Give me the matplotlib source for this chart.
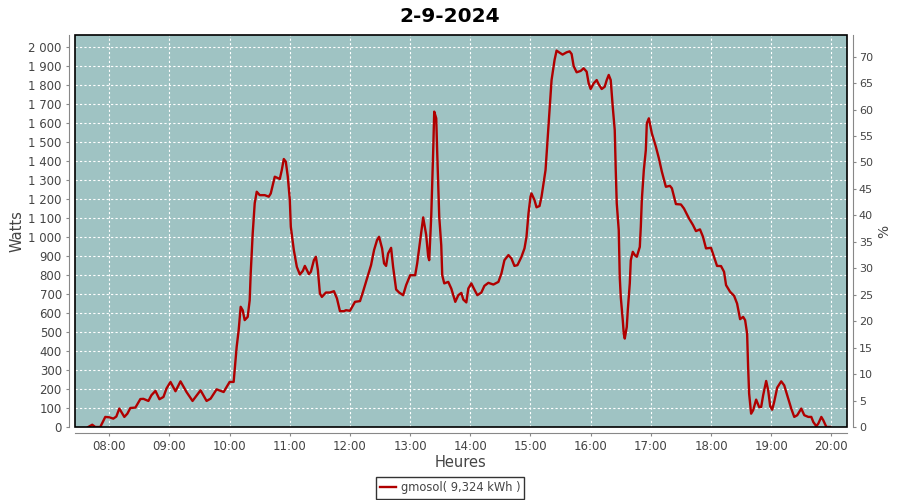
import pandas as pd
import matplotlib
matplotlib.use("Agg")
import matplotlib.pyplot as plt
import matplotlib.dates as mdates
from matplotlib.patches import Rectangle
from matplotlib.ticker import FuncFormatter, MultipleLocator

day = "2024-09-02"
title = "2-9-2024"
series_name = "gmosol( 9,324 kWh )"

times = [
    "07:39", "07:43", "07:46", "07:51", "07:56", "08:00", "08:04", "08:07", "08:10", "08:12",
    "08:15", "08:18", "08:21", "08:26", "08:31", "08:34", "08:39", "08:42", "08:46", "08:50",
    "08:54", "08:57", "09:01", "09:06", "09:11", "09:17", "09:23", "09:31", "09:37", "09:41",
    "09:47", "09:54", "10:00", "10:04", "10:05", "10:07", "10:09", "10:11", "10:13", "10:15",
    "10:18", "10:20", "10:21", "10:23", "10:25", "10:27", "10:30", "10:35", "10:39", "10:41",
    "10:45", "10:50", "10:52", "10:54", "10:56", "10:58", "11:00", "11:01", "11:04", "11:07",
    "11:10", "11:13", "11:15", "11:19", "11:21", "11:24", "11:26", "11:28", "11:30", "11:32",
    "11:36", "11:40", "11:44", "11:47", "11:50", "11:54", "11:56", "12:00", "12:05", "12:10",
    "12:13", "12:17", "12:21", "12:24", "12:27", "12:29", "12:32", "12:34", "12:36", "12:38",
    "12:41", "12:43", "12:46", "12:49", "12:53", "12:56", "13:00", "13:05", "13:07", "13:10",
    "13:13", "13:16", "13:18", "13:19", "13:21", "13:22", "13:23", "13:24", "13:26", "13:27",
    "13:29", "13:31", "13:32", "13:34", "13:38", "13:41", "13:45", "13:48", "13:51", "13:53",
    "13:56", "13:58", "14:01", "14:04", "14:07", "14:11", "14:14", "14:18", "14:23", "14:28",
    "14:31", "14:34", "14:38", "14:41", "14:44", "14:47", "14:51", "14:54", "14:56", "14:58",
    "15:00", "15:01", "15:04", "15:06", "15:09", "15:11", "15:14", "15:15", "15:17", "15:19",
    "15:21", "15:24", "15:26", "15:29", "15:32", "15:36", "15:39", "15:41", "15:43", "15:46",
    "15:50", "15:53", "15:56", "15:58", "16:00", "16:03", "16:06", "16:08", "16:11", "16:14",
    "16:16", "16:18", "16:20", "16:22", "16:24", "16:25", "16:26", "16:28", "16:29", "16:30",
    "16:32", "16:33", "16:34", "16:36", "16:37", "16:39", "16:40", "16:42", "16:44", "16:46",
    "16:49", "16:50", "16:51", "16:53", "16:55", "16:56", "16:58", "17:01", "17:05", "17:08",
    "17:11", "17:15", "17:19", "17:21", "17:25", "17:30", "17:33", "17:38", "17:42", "17:45",
    "17:49", "17:52", "17:55", "18:00", "18:03", "18:06", "18:10", "18:13", "18:15", "18:19",
    "18:23", "18:26", "18:29", "18:32", "18:34", "18:36", "18:37", "18:38", "18:40", "18:42",
    "18:45", "18:48", "18:50", "18:52", "18:55", "18:57", "18:59", "19:01", "19:03", "19:06",
    "19:10", "19:13", "19:16", "19:20", "19:23", "19:26", "19:30", "19:33", "19:37", "19:40",
    "19:42", "19:45", "19:47", "19:50", "19:52", "19:55", "19:59",
]

watts = [
    0, 12, 0, 0, 53, 51, 44, 55, 97, 79,
    53, 70, 100, 102, 147, 148, 137, 167, 190, 146,
    158, 202, 237, 188, 240, 184, 137, 193, 137, 149,
    198, 184, 237, 237, 298, 421, 509, 632, 614, 562,
    579, 667, 807, 1018, 1176, 1237, 1219, 1219, 1211, 1228,
    1316, 1304, 1351, 1409, 1395, 1316, 1193, 1053, 930, 842,
    802, 821, 847, 804, 816, 877, 895, 825, 702, 684,
    707, 707, 714, 676, 609, 609, 614, 611, 658, 662,
    711, 781, 851, 930, 983, 1000, 939, 860, 847, 912,
    942, 842, 723, 707, 693, 746, 798, 798, 860, 983,
    1102, 1009, 895, 877, 1105, 1281, 1456, 1658, 1623, 1439,
    1105, 956, 798, 755, 763, 728, 658, 693, 705, 670,
    655, 728, 755, 723, 693, 707, 742, 758, 749, 763,
    807, 877, 904, 886, 847, 851, 895, 939, 1000, 1123,
    1211, 1228, 1193, 1155, 1162, 1211, 1316, 1351, 1509, 1667,
    1824, 1930, 1979, 1968, 1958, 1970, 1975, 1961, 1898, 1865,
    1872, 1886, 1868, 1807, 1777, 1807, 1824, 1802, 1777, 1789,
    1824, 1851, 1824, 1684, 1561, 1351, 1176, 1035, 789, 684,
    562, 491, 465, 526, 614, 755, 877, 921, 904, 895,
    947, 1053, 1193, 1351, 1456, 1597, 1623, 1544, 1474, 1413,
    1342, 1263, 1268, 1255, 1172, 1170, 1149, 1097, 1062, 1030,
    1039, 1000, 939, 942, 895, 847, 846, 816, 746, 711,
    690, 649, 567, 579, 562, 491, 316, 176, 70, 88,
    144, 105, 105, 167, 242, 193, 109, 91, 132, 207,
    240, 219, 167, 97, 53, 62, 97, 62, 53, 53,
    26, 4, 18, 53, 35, 0, 0,
]

x = pd.to_datetime([day + " " + t for t in times])

text_col = "#444444"
axis_col = "#888888"

fig = plt.figure(figsize=(9, 5), dpi=100)
ax = fig.add_axes([75 / 900, 1 - 427 / 500, (847 - 75) / 900, (427 - 35) / 500])
ax.set_facecolor("#9fc3c3")

line, = ax.plot(x, watts, color="#b00000", lw=1.7, label=series_name, zorder=3)

ax.set_xlim(pd.Timestamp(day + " 07:25:48"), pd.Timestamp(day + " 20:15:36"))
ax.set_ylim(0, 2061)
ax.xaxis.set_major_locator(mdates.HourLocator())
ax.xaxis.set_major_formatter(mdates.DateFormatter("%H:%M"))
ax.yaxis.set_major_locator(MultipleLocator(100))
ax.yaxis.set_major_formatter(FuncFormatter(lambda v, p: f"{int(v):,}".replace(",", " ")))

ax.grid(True, color="white", lw=0.8, linestyle=(0, (2, 2)))
ax.set_axisbelow(True)

for s in ["top", "right"]:
    ax.spines[s].set_visible(False)
for s in ["left", "bottom"]:
    ax.spines[s].set_position(("outward", 4))
    ax.spines[s].set_color(axis_col)
ax.add_patch(Rectangle((0, 0), 1, 1, transform=ax.transAxes, fill=False,
                       edgecolor="black", lw=1.2, zorder=4, clip_on=False))
ax.tick_params(length=2.5, width=0.8, color=axis_col, labelcolor=text_col,
               labelsize=8.5, pad=3)

ax.set_ylabel("Watts", fontsize=10.5, color=text_col, labelpad=3)
ax.set_xlabel("Heures", fontsize=10.5, color=text_col, labelpad=1)

ax2 = ax.twinx()
ax2.set_ylim(0, 74.1)
ax2.yaxis.set_major_locator(MultipleLocator(5))
for s in ["top", "left", "bottom"]:
    ax2.spines[s].set_visible(False)
ax2.spines["right"].set_position(("outward", 4))
ax2.spines["right"].set_color(axis_col)
ax2.tick_params(length=2.5, width=0.8, color=axis_col, labelcolor=text_col,
                labelsize=8, pad=2)
ax2.set_ylabel("%", fontsize=10, color=text_col, labelpad=3)

fig.suptitle(title, x=0.5, y=0.985, fontsize=14.5, fontweight="bold", color="black", va="top")

leg = fig.legend(handles=[line], loc="center", bbox_to_anchor=(0.5, 1 - 488 / 500),
                 fontsize=8.3, frameon=True, fancybox=False, edgecolor="black",
                 handlelength=1.4, handletextpad=0.4, borderpad=0.35, labelcolor=text_col)
leg.get_frame().set_linewidth(1.0)

fig.savefig("out.png", dpi=100)
